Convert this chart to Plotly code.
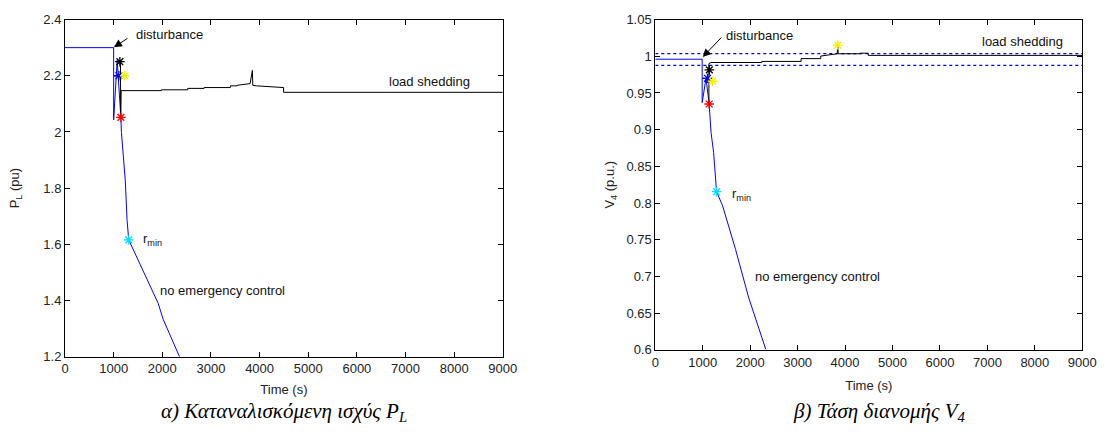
import plotly.graph_objects as go

# ---- Load power P_L (pu) ----
t_pl_nc = [0, 1000, 1000, 1073, 1148, 1160, 1240, 1248, 1275, 1310, 1410, 1915, 2018, 2354]
pl_nc = [2.30, 2.30, 2.043, 2.255, 2.052, 1.998, 1.826, 1.774, 1.688, 1.616, 1.579, 1.390, 1.333, 1.20]
t_pl_nc_hold = [990, 1170]
pl_nc_hold = [2.20, 2.20]

t_pl_ls = [1140, 1145, 1154, 1984, 1984, 2523, 2523, 2860, 2860, 3400, 3400, 3536, 3536,
           3805, 3852, 3860, 3940, 4494, 4494, 9000]
pl_ls = [2.25, 2.052, 2.147, 2.147, 2.150, 2.150, 2.155, 2.155, 2.158, 2.158, 2.164,
         2.164, 2.166, 2.172, 2.219, 2.166, 2.164, 2.158, 2.141, 2.141]

pl_stars_t = [1128, 1107, 1228, 1148, 1310]
pl_stars_v = [2.250, 2.200, 2.200, 2.052, 1.616]

# ---- Distribution voltage V_4 (p.u.) ----
t_v4_nc = [0, 988, 988, 1069, 1135, 1175, 1229, 1291, 1415, 1691, 1969, 2327]
v4_nc = [0.996, 0.996, 0.937, 0.970, 0.935, 0.896, 0.869, 0.8155, 0.797, 0.737, 0.671, 0.601]
t_v4_nc_hold = [988, 1130]
v4_nc_hold = [0.970, 0.970]

t_v4_ls = [1130, 1130, 1173, 2244, 2244, 3073, 3073, 3487, 3487, 3833, 3846, 3856, 4316,
           4316, 4489, 4489, 9000]
v4_ls = [0.935, 0.990, 0.9915, 0.9915, 0.993, 0.993, 0.9968, 0.9968, 1.0003, 1.0034,
         1.0153, 1.0034, 1.0034, 1.0042, 1.0042, 1.0012, 1.0012]

v4_band = [1.0035, 0.9875]

v4_stars_t = [1139, 1100, 1207, 1135, 1291, 3846]
v4_stars_v = [0.9814, 0.970, 0.966, 0.935, 0.8155, 1.0153]

pl_star_colors = ["black", "blue", "#f0f000", "red", "#00e0ff"]
v4_star_colors = ["black", "blue", "#f0f000", "red", "#00e0ff", "#f0f000"]

x_ticks = list(range(0, 9001, 1000))

SANS = "Liberation Sans, Arial, sans-serif"
SERIF = "Liberation Serif, Times New Roman, serif"
BLUE = "#0000ff"

fig = go.Figure()

# left panel
fig.add_trace(go.Scatter(x=t_pl_nc, y=pl_nc, mode="lines", line=dict(color=BLUE, width=1),
                         xaxis="x", yaxis="y", showlegend=False))
fig.add_trace(go.Scatter(x=t_pl_nc_hold, y=pl_nc_hold, mode="lines", line=dict(color=BLUE, width=1),
                         xaxis="x", yaxis="y", showlegend=False))
fig.add_trace(go.Scatter(x=t_pl_ls, y=pl_ls, mode="lines", line=dict(color="black", width=1),
                         xaxis="x", yaxis="y", showlegend=False))
fig.add_trace(go.Scatter(x=pl_stars_t, y=pl_stars_v, mode="markers",
                         marker=dict(symbol="asterisk-open", size=8, color=pl_star_colors,
                                     line=dict(width=1.3)),
                         xaxis="x", yaxis="y", showlegend=False))

# right panel
for lvl in v4_band:
    fig.add_trace(go.Scatter(x=[0, 9000], y=[lvl, lvl], mode="lines",
                             line=dict(color=BLUE, width=1.2, dash="3px,3px"),
                             xaxis="x2", yaxis="y2", showlegend=False))
fig.add_trace(go.Scatter(x=t_v4_nc, y=v4_nc, mode="lines", line=dict(color=BLUE, width=1),
                         xaxis="x2", yaxis="y2", showlegend=False))
fig.add_trace(go.Scatter(x=t_v4_nc_hold, y=v4_nc_hold, mode="lines", line=dict(color=BLUE, width=1),
                         xaxis="x2", yaxis="y2", showlegend=False))
fig.add_trace(go.Scatter(x=t_v4_ls, y=v4_ls, mode="lines", line=dict(color="black", width=1),
                         xaxis="x2", yaxis="y2", showlegend=False))
fig.add_trace(go.Scatter(x=v4_stars_t, y=v4_stars_v, mode="markers",
                         marker=dict(symbol="asterisk-open", size=8, color=v4_star_colors,
                                     line=dict(width=1.3)),
                         xaxis="x2", yaxis="y2", showlegend=False))

W, H = 1114, 441

axis_common = dict(showline=True, linecolor="black", linewidth=1, mirror="ticks",
                   ticks="inside", ticklen=5, tickcolor="black", showgrid=False,
                   zeroline=False, tickfont=dict(family=SANS, size=13, color="#222"))
title_font = dict(family=SANS, size=13, color="#222")

fig.update_layout(
    width=W, height=H,
    margin=dict(l=0, r=0, t=0, b=0),
    paper_bgcolor="white", plot_bgcolor="white",
    xaxis=dict(domain=[62 / W, 507 / W], range=[0, 9000], tickvals=x_ticks, anchor="y",
               title=dict(text="Time (s)", font=title_font, standoff=9), **axis_common),
    yaxis=dict(domain=[1 - 362 / H, 1 - 13 / H], range=[1.2, 2.4], dtick=0.2, anchor="x",
               tickformat="~g",
               title=dict(text="P<sub>L</sub> (pu)", font=title_font, standoff=20), **axis_common),
    xaxis2=dict(domain=[662 / W, 1096 / W], range=[0, 9000], tickvals=x_ticks, anchor="y2",
                title=dict(text="Time (s)", font=title_font, standoff=12), **axis_common),
    yaxis2=dict(domain=[1 - 355 / H, 1 - 13 / H], range=[0.6, 1.05], dtick=0.05, anchor="x2",
                tickformat="~g",
                title=dict(text="V<sub>4</sub> (p.u.)", font=title_font, standoff=8), **axis_common),
)

txt = dict(family=SANS, size=13, color="#111")
notes = [
    dict(x=1417, y=2.347, xref="x", yref="y", text="disturbance", xanchor="left"),
    dict(x=7499, y=2.178, xref="x", yref="y", text="load shedding", xanchor="center"),
    dict(x=1560, y=1.616, xref="x", yref="y", text="r<sub>min</sub>", xanchor="left"),
    dict(x=1917, y=1.436, xref="x", yref="y", text="no emergency control", xanchor="left"),
    dict(x=1450, y=1.0286, xref="x2", yref="y2", text="disturbance", xanchor="left"),
    dict(x=6850, y=1.0197, xref="x2", yref="y2", text="load shedding", xanchor="left"),
    dict(x=1570, y=0.812, xref="x2", yref="y2", text="r<sub>min</sub>", xanchor="left"),
    dict(x=2051, y=0.700, xref="x2", yref="y2", text="no emergency control", xanchor="left"),
]
for n in notes:
    fig.add_annotation(showarrow=False, yanchor="middle", font=txt, **n)

# disturbance arrows
fig.add_annotation(x=1006, y=2.301, xref="x", yref="y", ax=15, ay=-10, text="",
                   showarrow=True, arrowhead=2, arrowsize=1.6, arrowwidth=1, arrowcolor="black")
fig.add_annotation(x=1001, y=0.999, xref="x2", yref="y2", ax=20, ay=-21, text="",
                   showarrow=True, arrowhead=2, arrowsize=1.6, arrowwidth=1, arrowcolor="black")

cap = dict(family=SERIF, size=21, color="black")
fig.add_annotation(x=285 / W, y=1 - 419 / H, xref="paper", yref="paper", showarrow=False,
                   text="<i>α) Καταναλισκόμενη ισχύς P<sub>L</sub></i>", font=cap,
                   xanchor="center", yanchor="middle")
fig.add_annotation(x=890 / W, y=1 - 419 / H, xref="paper", yref="paper", showarrow=False,
                   text="<i>β) Τάση διανομής V<sub>4</sub></i>", font=cap,
                   xanchor="center", yanchor="middle")

fig.write_html("out.html")
